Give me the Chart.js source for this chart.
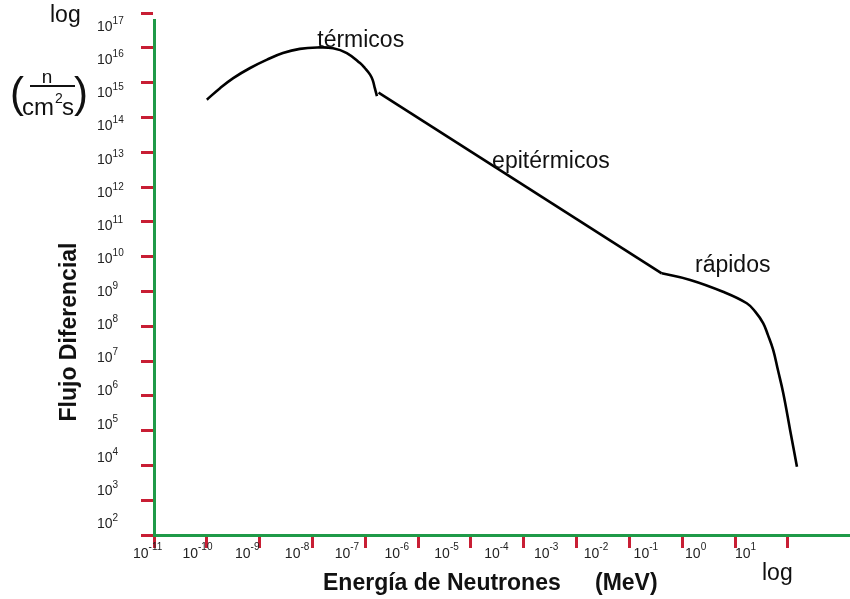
<!DOCTYPE html>
<html>
<head>
<meta charset="utf-8">
<title>Flujo diferencial de neutrones</title>
<script src="https://cdn.jsdelivr.net/npm/chart.js@4.4.1/dist/chart.umd.min.js"></script>
<style>
  html, body { margin: 0; padding: 0; background: #ffffff; }
  #wrap { position: relative; width: 850px; height: 599px; }
</style>
</head>
<body>
<div id="wrap"><canvas id="spectrum"></canvas></div>
<script>
// Decade marks (log10 exponents) on each axis
const energyTickExps = [-11, -10, -9, -8, -7, -6, -5, -4, -3, -2, -1, 0, 1];
const fluxTickExps = [2, 3, 4, 5, 6, 7, 8, 9, 10, 11, 12, 13, 14, 15, 16, 17];

// Decade labels printed along each axis
const energyLabelExps = [-11, -10, -9, -8, -7, -6, -5, -4, -3, -2, -1, 0, 1];
const fluxLabelExps = [2, 3, 4, 5, 6, 7, 8, 9, 10, 11, 12, 13, 14, 15, 16, 17];

// Spectrum: log10(E / MeV) against log10(flux)
const thermalLogE    = [-10.00, -9.75, -9.50, -9.18, -8.86, -8.56, -8.24, -7.91, -7.61, -7.35, -7.10, -7.01, -6.91, -6.86, -6.82, -6.78];
const thermalLogFlux = [ 14.51, 14.84, 15.13, 15.42, 15.66, 15.85, 15.97, 16.01, 15.99, 15.85, 15.56, 15.42, 15.23, 15.07, 14.84, 14.61];

const epithermalLogE    = [-6.75, -1.39];
const epithermalLogFlux = [14.71,  9.52];

const fastLogE    = [-1.39, -0.85, -0.23, 0.22, 0.38, 0.53, 0.62, 0.72, 0.81, 0.91, 1.04, 1.17];
const fastLogFlux = [ 9.52,  9.33,  8.99, 8.66, 8.42, 8.09, 7.75, 7.32, 6.74, 6.08, 5.02, 3.96];

// Region names and where they sit (log10 E, log10 flux of the text baseline start)
const regionNames = ['térmicos', 'epitérmicos', 'rápidos'];
const regionLogE = [-7.91, -4.60, -0.76];
const regionLogFlux = [16.02, 12.55, 9.56];

const AXIS_GREEN = '#1f9a48';
const TICK_RED = '#c81e34';
const FONT = '"Liberation Sans", Arial, Helvetica, sans-serif';

const pairs = (xs, ys) => xs.map((x, i) => ({ x: x, y: ys[i] }));

// Power-of-ten labels, titles and the unit fraction
const decorations = {
  id: 'decorations',
  afterDraw(chart) {
    const ctx = chart.ctx;
    const xl = chart.scales.xLab;
    const yl = chart.scales.yLab;
    const xs = chart.scales.x;
    const ys = chart.scales.y;
    ctx.save();
    ctx.fillStyle = '#222';
    ctx.textAlign = 'left';
    ctx.textBaseline = 'alphabetic';

    // Flux decades: 10 with a raised exponent
    fluxLabelExps.forEach(e => {
      const py = yl.getPixelForValue(e);
      ctx.font = '14px ' + FONT;
      ctx.fillText('10', 97, py + 5);
      const w = ctx.measureText('10').width;
      ctx.font = '10px ' + FONT;
      ctx.fillText(String(e), 97 + w, py - 2);
    });

    // Energy decades
    energyLabelExps.forEach(e => {
      const px = xl.getPixelForValue(e);
      ctx.font = '14px ' + FONT;
      const w1 = ctx.measureText('10').width;
      ctx.font = '10px ' + FONT;
      const w2 = ctx.measureText(String(e)).width;
      const left = px - (w1 + w2) / 2;
      ctx.font = '14px ' + FONT;
      ctx.fillText('10', left, 557.5);
      ctx.font = '10px ' + FONT;
      ctx.fillText(String(e), left + w1, 550);
    });

    ctx.fillStyle = '#111';

    // Region names
    ctx.font = '23px ' + FONT;
    regionNames.forEach((name, i) => {
      ctx.fillText(name, xs.getPixelForValue(regionLogE[i]), ys.getPixelForValue(regionLogFlux[i]));
    });

    // "log" markers
    ctx.fillText('log', 50, 22);
    ctx.fillText('log', 762, 579.5);

    // Unit: ( n / cm² s )
    ctx.font = '42px ' + FONT;
    ctx.fillText('(', 10, 107);
    ctx.fillText(')', 74, 107);
    ctx.textAlign = 'center';
    ctx.font = '19px ' + FONT;
    ctx.fillText('n', 47, 83);
    ctx.textAlign = 'left';
    ctx.font = '24px ' + FONT;
    ctx.fillText('cm', 22, 115);
    ctx.fillText('s', 62, 115);
    ctx.font = '14px ' + FONT;
    ctx.fillText('2', 55, 103);
    ctx.strokeStyle = '#111';
    ctx.lineWidth = 2;
    ctx.beginPath();
    ctx.moveTo(30, 86);
    ctx.lineTo(75, 86);
    ctx.stroke();

    // Axis titles
    ctx.font = 'bold 23px ' + FONT;
    ctx.fillText('Energía de Neutrones', 323, 590);
    ctx.fillText('(MeV)', 595, 590);

    ctx.translate(76, 332);
    ctx.rotate(-Math.PI / 2);
    ctx.textAlign = 'center';
    ctx.fillText('Flujo Diferencial', 0, 0);
    ctx.restore();
  }
};

const lineStyle = {
  borderColor: '#000',
  borderWidth: 2.6,
  pointRadius: 0,
  fill: false
};

new Chart(document.getElementById('spectrum'), {
  type: 'line',
  data: {
    datasets: [
      Object.assign({ label: 'térmicos', data: pairs(thermalLogE, thermalLogFlux), tension: 0.4 }, lineStyle),
      Object.assign({ label: 'epitérmicos', data: pairs(epithermalLogE, epithermalLogFlux), tension: 0 }, lineStyle),
      Object.assign({ label: 'rápidos', data: pairs(fastLogE, fastLogFlux), tension: 0.4 }, lineStyle)
    ]
  },
  options: {
    responsive: true,
    maintainAspectRatio: false,
    animation: false,
    layout: { padding: { left: 141, top: 20, right: 0, bottom: 51 } },
    plugins: { legend: { display: false }, tooltip: { enabled: false } },
    scales: {
      x: {
        type: 'linear',
        position: 'bottom',
        min: -11,
        max: 2.174,
        afterBuildTicks: s => { s.ticks = energyTickExps.map(v => ({ value: v })); },
        ticks: { display: false },
        grid: { drawOnChartArea: false, drawTicks: true, tickLength: 13, tickColor: TICK_RED, tickWidth: 3 },
        border: { color: AXIS_GREEN, width: 3 }
      },
      y: {
        type: 'linear',
        position: 'left',
        min: 2,
        max: 16.799,
        afterBuildTicks: s => { s.ticks = fluxTickExps.map(v => ({ value: v })); },
        ticks: { display: false },
        grid: { drawOnChartArea: false, drawTicks: true, tickLength: 13, tickColor: TICK_RED, tickWidth: 3 },
        border: { color: AXIS_GREEN, width: 3 }
      },
      xLab: { type: 'linear', axis: 'x', position: 'bottom', display: false, min: -10.872, max: 3.098 },
      yLab: { type: 'linear', axis: 'y', position: 'left', display: false, min: 1.638, max: 17.183 }
    }
  },
  plugins: [decorations]
});
</script>
</body>
</html>
